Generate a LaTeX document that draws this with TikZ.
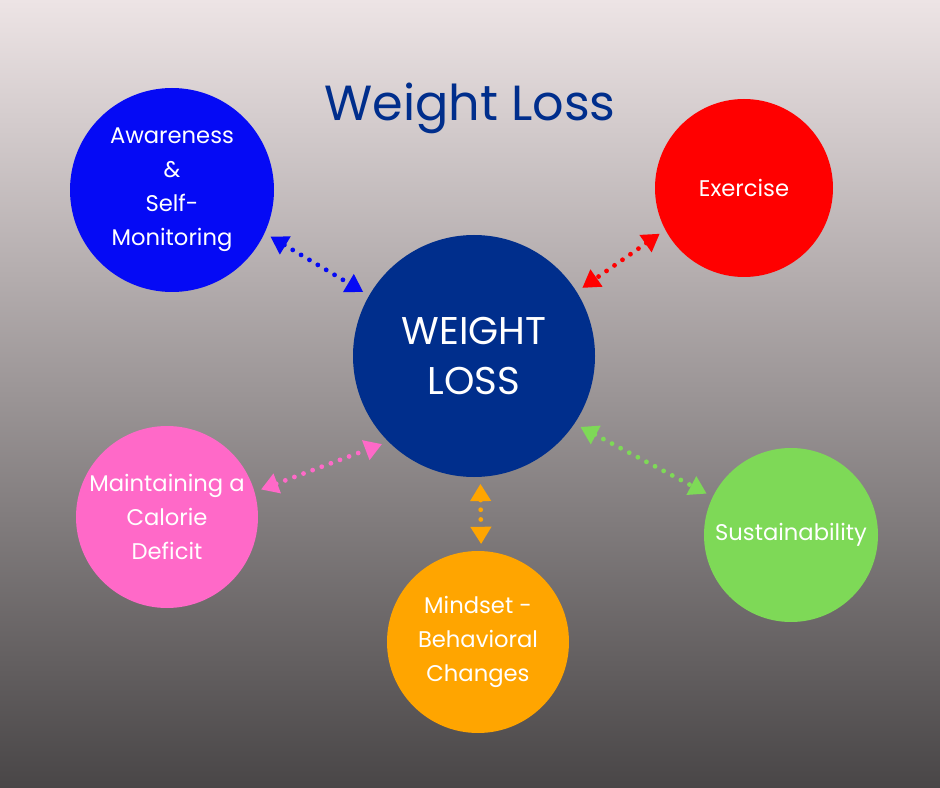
\documentclass[tikz,border=0pt]{standalone}
\usepackage{fontspec}
\setmainfont{Poppins}
\usetikzlibrary{arrows.meta}

\definecolor{bgtop}{RGB}{237,228,229}
\definecolor{bgbot}{RGB}{73,70,71}
\definecolor{navyhub}{RGB}{0,46,140}
\definecolor{awareblue}{RGB}{5,10,245}
\definecolor{exred}{RGB}{255,0,0}
\definecolor{calpink}{RGB}{255,105,200}
\definecolor{mindorange}{RGB}{255,165,0}
\definecolor{susgreen}{RGB}{126,217,87}

\begin{document}
\begin{tikzpicture}[
  x=0.75pt,y=-0.75pt,
  topic/.style={circle,fill=#1,inner sep=0pt,text=white,align=center,
                font=\fontsize{17}{25.5}\selectfont},
  hub/.style  ={circle,fill=navyhub,inner sep=0pt,text=white,align=center,
                minimum size=181.5pt,font=\fontsize{29}{38}\selectfont},
  heading/.style={text=navyhub,font=\fontsize{37}{40}\selectfont},
  link/.style ={draw=#1,line width=3.6pt,line cap=round,
                dash pattern=on 0pt off 7.3pt,
                {Triangle[length=13pt,width=15pt]}-{Triangle[length=13pt,width=15pt]},
                shorten <=5pt,shorten >=5pt}]
% --- background and frame ---
\shade[top color=bgtop,bottom color=bgbot] (0,0) rectangle (940,788);
\useasboundingbox (0,0) rectangle (940,788);
% --- title ---
\node[heading] (head) at (470,108) {Weight Loss};
% --- hub and the five topics ---
\node[hub] (core) at (474,356) {WEIGHT\\LOSS};
\node[topic=awareblue,minimum size=153pt]   (aware)   at (172,190) {Awareness\\\&\\Self-\\Monitoring};
\node[topic=exred,minimum size=133.5pt]     (exer)    at (744,188) {Exercise};
\node[topic=calpink,minimum size=136.5pt]   (calorie) at (167,517) {Maintaining a\\Calorie\\Deficit};
\node[topic=mindorange,minimum size=136.5pt](mind)    at (478,642) {Mindset -\\Behavioral\\Changes};
\node[topic=susgreen,minimum size=130.5pt]  (sustain) at (791,535) {Sustainability};
% --- dotted two-way links ---
\draw[link=awareblue]  (aware.-25)   -- (core.150);
\draw[link=exred]      (exer.208)    -- (core.32);
\draw[link=calpink]    (calorie.16)  -- (core.225);
\draw[link=mindorange] (core.-87)    -- (mind.88);
\draw[link=susgreen]   (core.-34)    -- (sustain.154);
\end{tikzpicture}
\end{document}
